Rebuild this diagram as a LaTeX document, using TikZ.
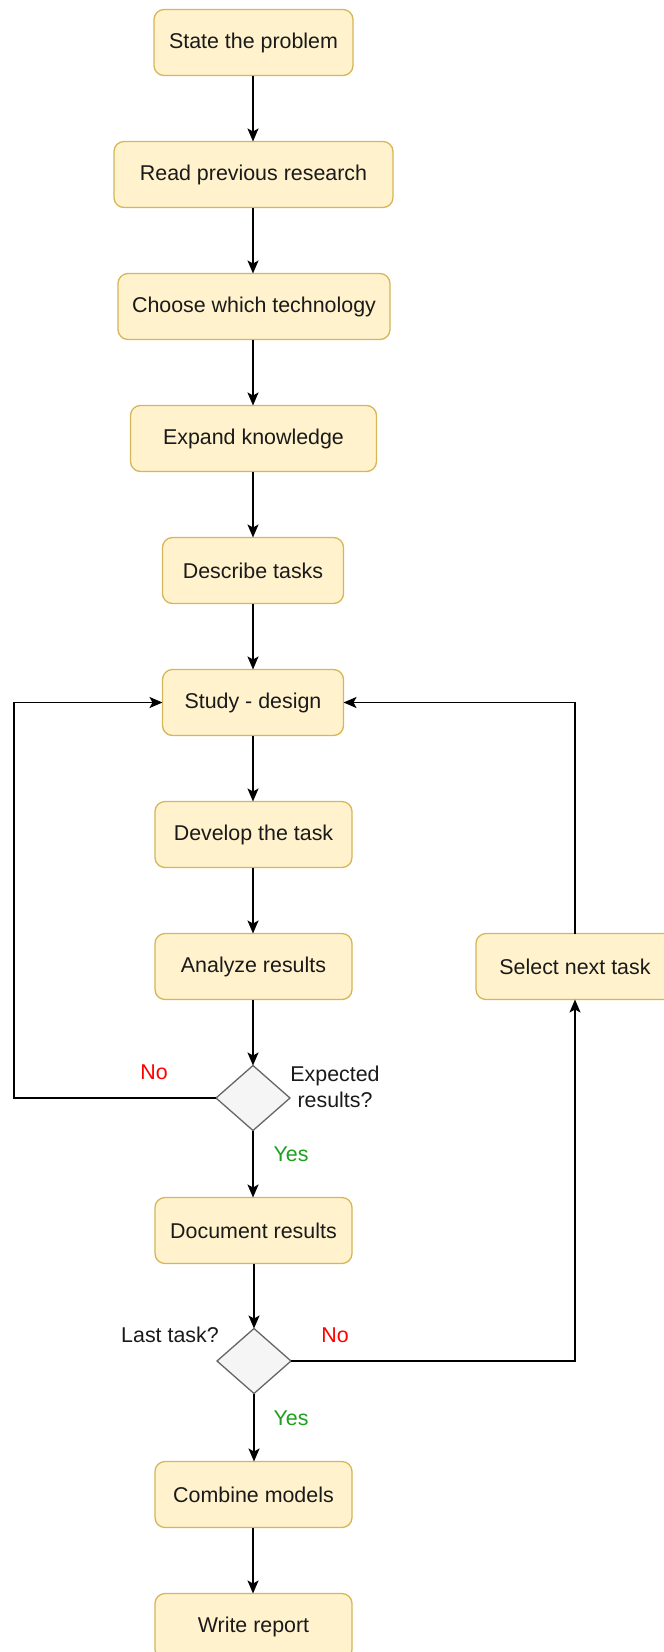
\documentclass[tikz,border=0pt]{standalone}
\usepackage{fontspec}
\setmainfont{Liberation Sans}
\usetikzlibrary{shapes.geometric,arrows.meta}
\definecolor{boxfill}{HTML}{FFF2CC}
\definecolor{boxline}{HTML}{D6B656}
\definecolor{decfill}{HTML}{F5F5F5}
\definecolor{decline}{HTML}{666666}
\definecolor{txt}{HTML}{1A1A1A}
\definecolor{nored}{HTML}{FF0000}
\definecolor{yesgreen}{HTML}{1DA01D}
\tikzset{
  stepbox/.style={draw=boxline, fill=boxfill, line width=1.3pt, rounded corners=10pt,
    minimum height=66pt, inner sep=0pt, outer sep=0pt, text=txt, font=\fontsize{21.4}{25}\selectfont},
  decision/.style={diamond, draw=decline, fill=decfill, line width=1.3pt, aspect=1.15,
    minimum width=74pt, minimum height=65pt, inner sep=0pt, outer sep=0pt},
  flow/.style={line width=1.7pt, draw=black, -{Stealth[length=13pt,width=11pt,inset=3pt]}},
  lbl/.style={font=\fontsize{21.4}{26}\selectfont, inner sep=0pt, align=center},
}
\begin{document}
\begin{tikzpicture}[x=1pt,y=-1pt]
\useasboundingbox (0,0) rectangle (664,1652);
\clip (0,0) rectangle (664,1652);
% main column of steps
\node[stepbox, minimum width=199pt] (s1)  at (253.5,42.5)  {State the problem};
\node[stepbox, minimum width=279pt] (s2)  at (253.5,174.5) {Read previous research};
\node[stepbox, minimum width=272pt] (s3)  at (254,306.5)   {Choose which technology};
\node[stepbox, minimum width=246pt] (s4)  at (253.5,438.5) {Expand knowledge};
\node[stepbox, minimum width=181pt] (s5)  at (253,570.5)   {Describe tasks};
\node[stepbox, minimum width=181pt] (s6)  at (253,702.5)   {Study - design};
\node[stepbox, minimum width=197pt] (s7)  at (253.5,834.5) {Develop the task};
\node[stepbox, minimum width=197pt] (s8)  at (253.5,966.5) {Analyze results};
\node[decision] (d1) at (253,1098) {};
\node[stepbox, minimum width=197pt] (s9)  at (253.5,1230.5) {Document results};
\node[decision] (d2) at (254,1361) {};
\node[stepbox, minimum width=197pt] (s10) at (253.5,1494.5) {Combine models};
\node[stepbox, minimum width=197pt] (s11) at (253.5,1626.5) {Write report};
% side step
\node[stepbox, minimum width=198pt] (sel) at (575,966.5) {Select next task};

% decision labels
\node[lbl, text=txt] (q1) at (335,1087) {Expected\\results?};
\node[lbl, text=txt] (q2) at (170,1335) {Last task?};
\node[lbl, text=nored] (n1) at (154,1072) {No};
\node[lbl, text=yesgreen] (y1) at (291,1154) {Yes};
\node[lbl, text=nored] (n2) at (335,1335) {No};
\node[lbl, text=yesgreen] (y2) at (291,1418) {Yes};

% connectors, all on the column axis
\coordinate (ax) at (253,0);
\draw[flow] (s1.south -| ax) -- (s2.north -| ax);
\draw[flow] (s2.south -| ax) -- (s3.north -| ax);
\draw[flow] (s3.south -| ax) -- (s4.north -| ax);
\draw[flow] (s4.south -| ax) -- (s5.north -| ax);
\draw[flow] (s5) -- (s6);
\draw[flow] (s6.south -| ax) -- (s7.north -| ax);
\draw[flow] (s7.south -| ax) -- (s8.north -| ax);
\draw[flow] (s8.south -| ax) -- (d1);
\draw[flow] (d1) -- (s9.north -| d1);
\draw[flow] (s9.south -| d2) -- (d2);
\draw[flow] (d2) -- (s10.north -| d2);
\draw[flow] (s10.south -| ax) -- (s11.north -| ax);
\coordinate (lb) at (14,1098);
\coordinate (lt) at (14,702.5);
\draw[flow] (d1.west) -- (lb) -- (lt) -- (s6.west);
\coordinate (rb) at (575,1361);
\draw[flow] (d2.east) -- (rb) -- (sel.south);
\coordinate (rt) at (575,702.5);
\draw[flow] (sel.north) -- (rt) -- (s6.east);
\end{tikzpicture}
\end{document}
